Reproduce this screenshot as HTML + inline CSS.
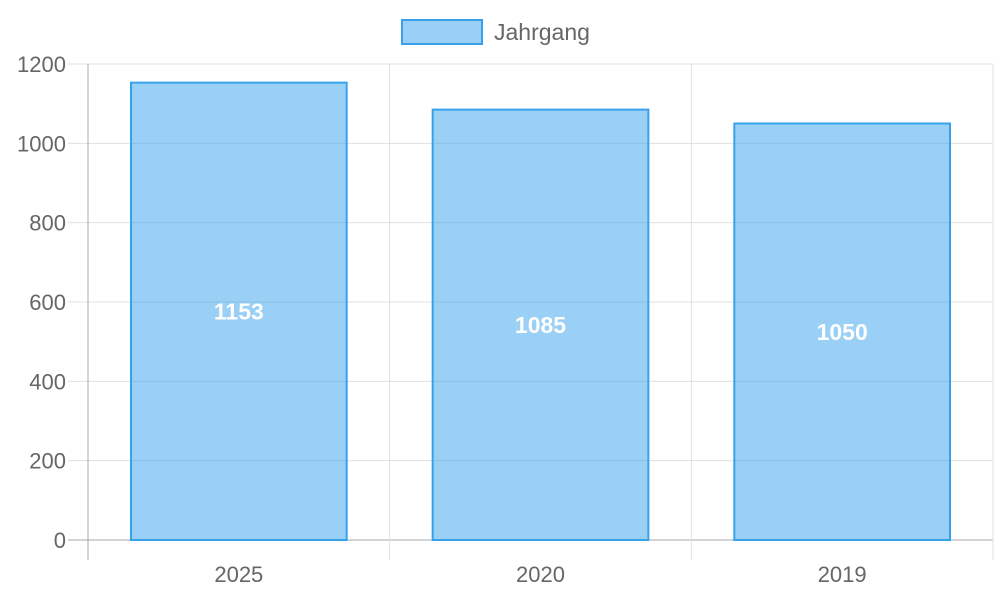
<!DOCTYPE html>
<html><head><meta charset="utf-8"><style>
html,body{margin:0;padding:0;background:#fff;}
svg{display:block;font-family:"Liberation Sans",sans-serif;}
</style></head><body>
<svg id="chart" width="1000" height="600">
<g id="grid"></g>
<g id="bars"></g>
<g>
<rect x="402" y="20" width="80" height="24" fill="rgba(54,162,235,0.5)" stroke="#36a2eb" stroke-width="2"/>
<text x="494" y="40" font-size="23" fill="#666">Jahrgang</text>
</g>
</svg>
<script>
const categories = ["2025","2020","2019"];
const values = [1153,1085,1050];
const yTicks = [0,200,400,600,800,1000,1200];
const L=88,R=993,T=64,B=540,yMax=1200;
const NS="http://www.w3.org/2000/svg";
const y=v=>B-(v/yMax)*(B-T);
const cw=(R-L)/categories.length;
const x=i=>L+cw*i;
const grid=document.getElementById('grid'),bars=document.getElementById('bars');
function mk(tag,attrs,parent,text){const e=document.createElementNS(NS,tag);for(const k in attrs)e.setAttribute(k,attrs[k]);if(text!==undefined)e.textContent=text;parent.appendChild(e);return e;}
yTicks.forEach(t=>{
  const l=mk('line',{x1:68,x2:R,y1:y(t),y2:y(t),stroke:t===0?'#aaa':'#e0e0e0','stroke-width':1},grid);
  
  
  const tx=mk('text',{x:66,y:y(t)+8,'text-anchor':'end','font-size':22,fill:'#666'},grid,String(t));
  
  
});
for(let i=0;i<=categories.length;i++){
  const l=mk('line',{x1:x(i),x2:x(i),y1:T,y2:560,stroke:i===0?'#aaa':'#e0e0e0','stroke-width':1},grid);
  
  
}
categories.forEach((c,i)=>{
  const bw=cw*0.715, bx=x(i)+(cw-bw)/2, top=y(values[i]);
  const r=mk('rect',{x:bx,y:top,width:bw,height:B-top,fill:'rgba(54,162,235,0.5)',stroke:'#36a2eb','stroke-width':2},bars);
  
  
  const v=mk('text',{x:x(i)+cw/2,y:(top+B)/2+8,'text-anchor':'middle','font-size':23,'font-weight':'bold',fill:'#fff'},bars,String(values[i]));
  
  
  const xl=mk('text',{x:x(i)+cw/2,y:582,'text-anchor':'middle','font-size':22,fill:'#666'},bars,c);
  
  
});
</script>
</body></html>
